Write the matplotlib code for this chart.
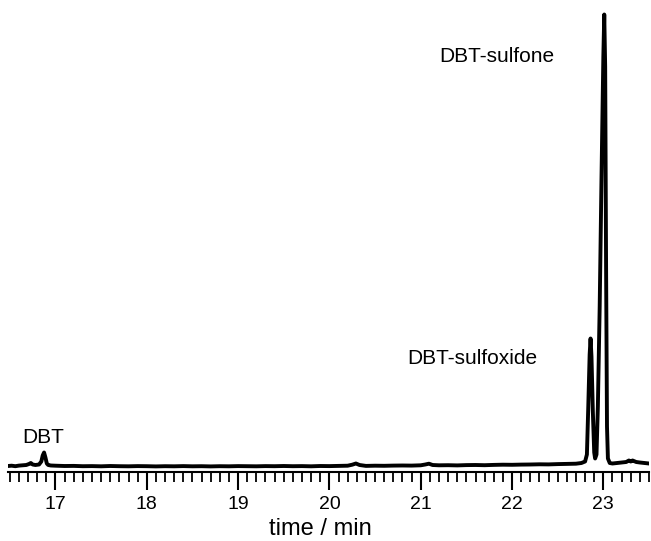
import matplotlib
matplotlib.use("Agg")
import matplotlib.pyplot as plt
from matplotlib.ticker import MultipleLocator

plt.rcParams['font.family'] = ['Liberation Sans', 'DejaVu Sans']

# Chromatogram trace (time in min, signal in arbitrary units)
time_min = [16.48, 16.52, 16.56, 16.60, 16.64, 16.68, 16.71, 16.73, 16.75, 16.78, 16.82,
            16.845, 16.86, 16.875, 16.89, 16.905, 16.92, 16.95, 17.00, 17.10, 17.20,
            17.30, 17.40, 17.50, 17.60, 17.70, 17.80, 17.90, 18.00, 18.10, 18.20,
            18.30, 18.40, 18.50, 18.60, 18.70, 18.80, 18.90, 19.00, 19.10, 19.20,
            19.30, 19.40, 19.50, 19.60, 19.70, 19.80, 19.90, 20.00, 20.10, 20.20,
            20.25, 20.29, 20.33, 20.40, 20.50, 20.60, 20.70, 20.80, 20.90, 21.00,
            21.05, 21.09, 21.13, 21.20, 21.30, 21.40, 21.50, 21.60, 21.70, 21.80,
            21.90, 22.00, 22.10, 22.20, 22.30, 22.40, 22.50, 22.60, 22.70, 22.76,
            22.80, 22.82, 22.835, 22.85, 22.86, 22.87, 22.885, 22.90, 22.91, 22.925,
            22.94, 22.96, 22.98, 23.00, 23.01, 23.02, 23.03, 23.04, 23.05, 23.07,
            23.10, 23.15, 23.20, 23.25, 23.28, 23.30, 23.32, 23.36, 23.40, 23.45, 23.50]
signal = [0.5, 0.8, 0.3, 0.9, 1.2, 1.5, 2.5, 3.5, 2.0, 1.5, 2.0,
          5.0, 11.0, 14.0, 9.0, 3.0, 1.5, 1.0, 0.8, 0.5, 0.6,
          0.3, 0.4, 0.2, 0.5, 0.3, 0.2, 0.4, 0.3, 0.1, 0.3,
          0.2, 0.4, 0.2, 0.3, 0.1, 0.3, 0.2, 0.4, 0.3, 0.2,
          0.4, 0.3, 0.5, 0.3, 0.4, 0.2, 0.5, 0.4, 0.6, 0.8,
          1.8, 3.0, 1.5, 0.6, 0.8, 0.7, 0.9, 1.0, 0.9, 1.2,
          2.0, 2.8, 1.5, 1.2, 1.3, 1.1, 1.4, 1.5, 1.3, 1.6,
          1.8, 1.7, 1.9, 2.0, 2.2, 2.1, 2.4, 2.6, 2.8, 3.5,
          5.0, 12.0, 60.0, 112.0, 128.0, 110.0, 55.0, 14.0, 8.0, 12.0,
          60.0, 160.0, 290.0, 410.0, 452.0, 400.0, 200.0, 40.0, 8.0, 3.5,
          3.0, 3.5, 4.0, 4.5, 6.0, 5.0, 6.0, 4.5, 4.0, 3.5, 3.0]

xmin, xmax = 16.48, 23.5
major_ticks = [17, 18, 19, 20, 21, 22, 23]

labels = [("DBT", 16.87, 29), ("DBT-sulfoxide", 21.56, 108), ("DBT-sulfone", 21.83, 410)]
x_label = "time / min"

fig = plt.figure(figsize=(6.51, 5.41), dpi=100)
ax = fig.add_axes([8/651, 1 - 472/541, 641/651, 462/541])

ax.plot(time_min, signal, color='black', lw=2.8, solid_joinstyle='round')
ax.set_xlim(xmin, xmax)
ax.set_ylim(-5.5, 456.5)

for s in ['top', 'right', 'left']:
    ax.spines[s].set_visible(False)
ax.spines['bottom'].set_linewidth(1.5)
ax.set_yticks([])
ax.set_xticks(major_ticks)
ax.xaxis.set_minor_locator(MultipleLocator(0.1))
ax.tick_params(axis='x', which='major', direction='out', length=13, width=1.5,
               labelsize=14, pad=4)
ax.tick_params(axis='x', which='minor', direction='out', length=7, width=1.3)
ax.set_xlabel(x_label, fontsize=17)
ax.xaxis.label.set_va('center')
ax.xaxis.set_label_coords(0.488, -57/462)

for txt, tx, ty in labels:
    ax.text(tx, ty, txt, fontsize=15, ha='center', va='center')

fig.savefig("out.png", dpi=100)
